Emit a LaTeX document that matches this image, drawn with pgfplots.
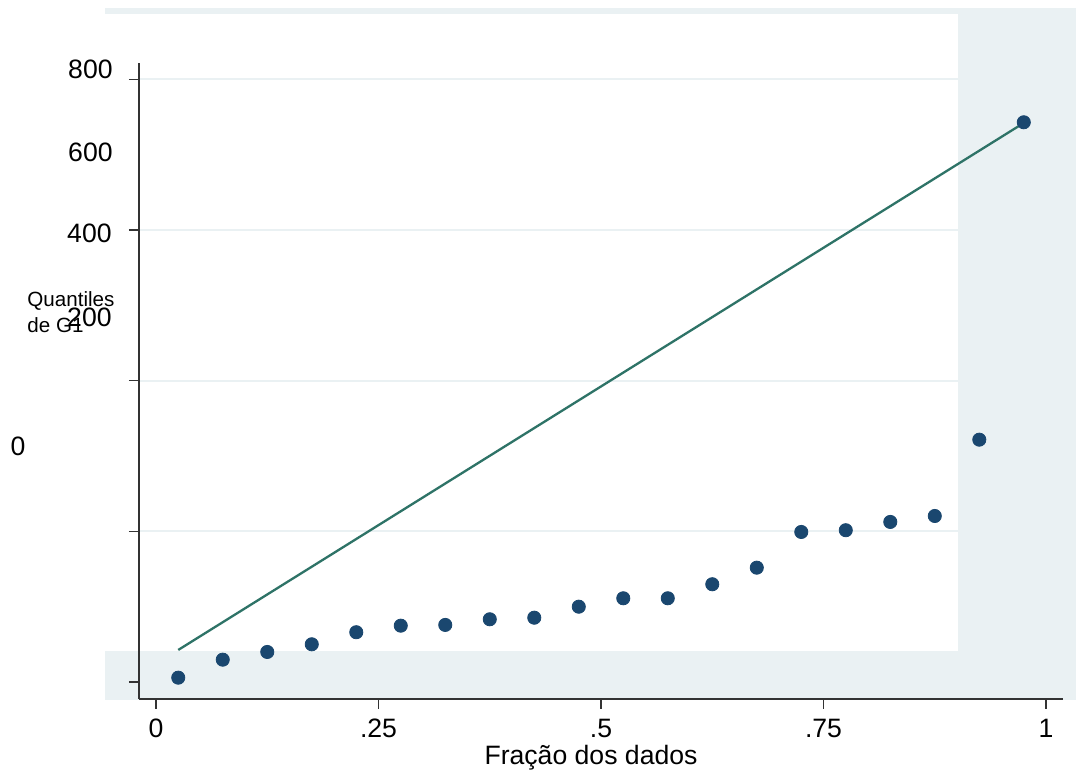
\documentclass[border=0pt]{standalone}
\usepackage{pgfplots}
\pgfplotsset{compat=1.18}
\usepackage{fontspec}
\setmainfont{Liberation Sans}
\definecolor{band}{HTML}{EAF1F3}
\definecolor{navy}{RGB}{26,71,111}
\definecolor{teal2}{RGB}{46,115,103}
\begin{document}
\begin{tikzpicture}
\path[fill=white] (0,0) rectangle (538pt,387pt);
\begin{scope}[shift={(0pt,387pt)},x=0.5pt,y=-0.5pt]
\fill[band] (105,8) rectangle (1076,700);
\fill[white] (105,14) rectangle (958,651);
\end{scope}
\begin{axis}[at={(69.5pt,37.5pt)}, anchor=south west, scale only axis,
  width=461.75pt, height=318pt,
  xmin=-0.0191, xmax=1.0185, ymin=-22.6, ymax=821.6,
  axis lines=left, axis line style={-, line width=0.8pt, black!80},
  xtick={0,0.25,0.5,0.75,1}, xticklabels={0,.25,.5,.75,1},
  ytick={0,200,400,600,800}, yticklabels={},
  tick align=outside, major tick length=5pt,
  tick style={black!80, line width=0.7pt},
  ymajorgrids, grid style={band, line width=1pt},
  xticklabel style={font=\fontsize{13.3}{15}\selectfont, yshift=-1.5pt},
  clip=false]
\addplot[only marks, mark=*, mark size=3.3pt, color=navy, mark options={draw=navy, fill=navy}] coordinates {
(0.025,5.7) (0.075,29.6) (0.125,39.8) (0.175,50.0) (0.225,66.0)
(0.275,74.7) (0.325,75.7) (0.375,83.2) (0.425,85.3) (0.475,99.9)
(0.525,111.1) (0.575,111.1) (0.625,129.7) (0.675,151.7) (0.725,199.1)
(0.775,201.4) (0.825,212.4) (0.875,220.3) (0.925,321.6) (0.975,742.9)
};
\addplot[teal2, line width=1.15pt, no marks] coordinates {(0.025,42.5) (0.975,742)};
\end{axis}
\begin{scope}[shift={(0pt,387pt)},x=0.5pt,y=-0.5pt]
\node[anchor=east, font=\fontsize{13.3}{15}\selectfont, inner sep=0pt] at (113,69) {800};
\node[anchor=east, font=\fontsize{13.3}{15}\selectfont, inner sep=0pt] at (113,152) {600};
\node[anchor=east, font=\fontsize{13.3}{15}\selectfont, inner sep=0pt] at (112,233.5) {400};
\node[anchor=east, font=\fontsize{13.3}{15}\selectfont, inner sep=0pt] at (112,317) {200};
\node[anchor=center, font=\fontsize{13.3}{15}\selectfont, inner sep=0pt] at (18,446) {0};
\node[anchor=base west, font=\fontsize{10.3}{12}\selectfont, inner sep=0pt] at (27,306.7) {Quantiles};
\node[anchor=base west, font=\fontsize{10.3}{12}\selectfont, inner sep=0pt] at (27,333) {de G1};
\node[anchor=base, font=\fontsize{13.3}{15}\selectfont, inner sep=0pt] at (591,765) {Fração dos dados};
\end{scope}
\end{tikzpicture}
\end{document}
